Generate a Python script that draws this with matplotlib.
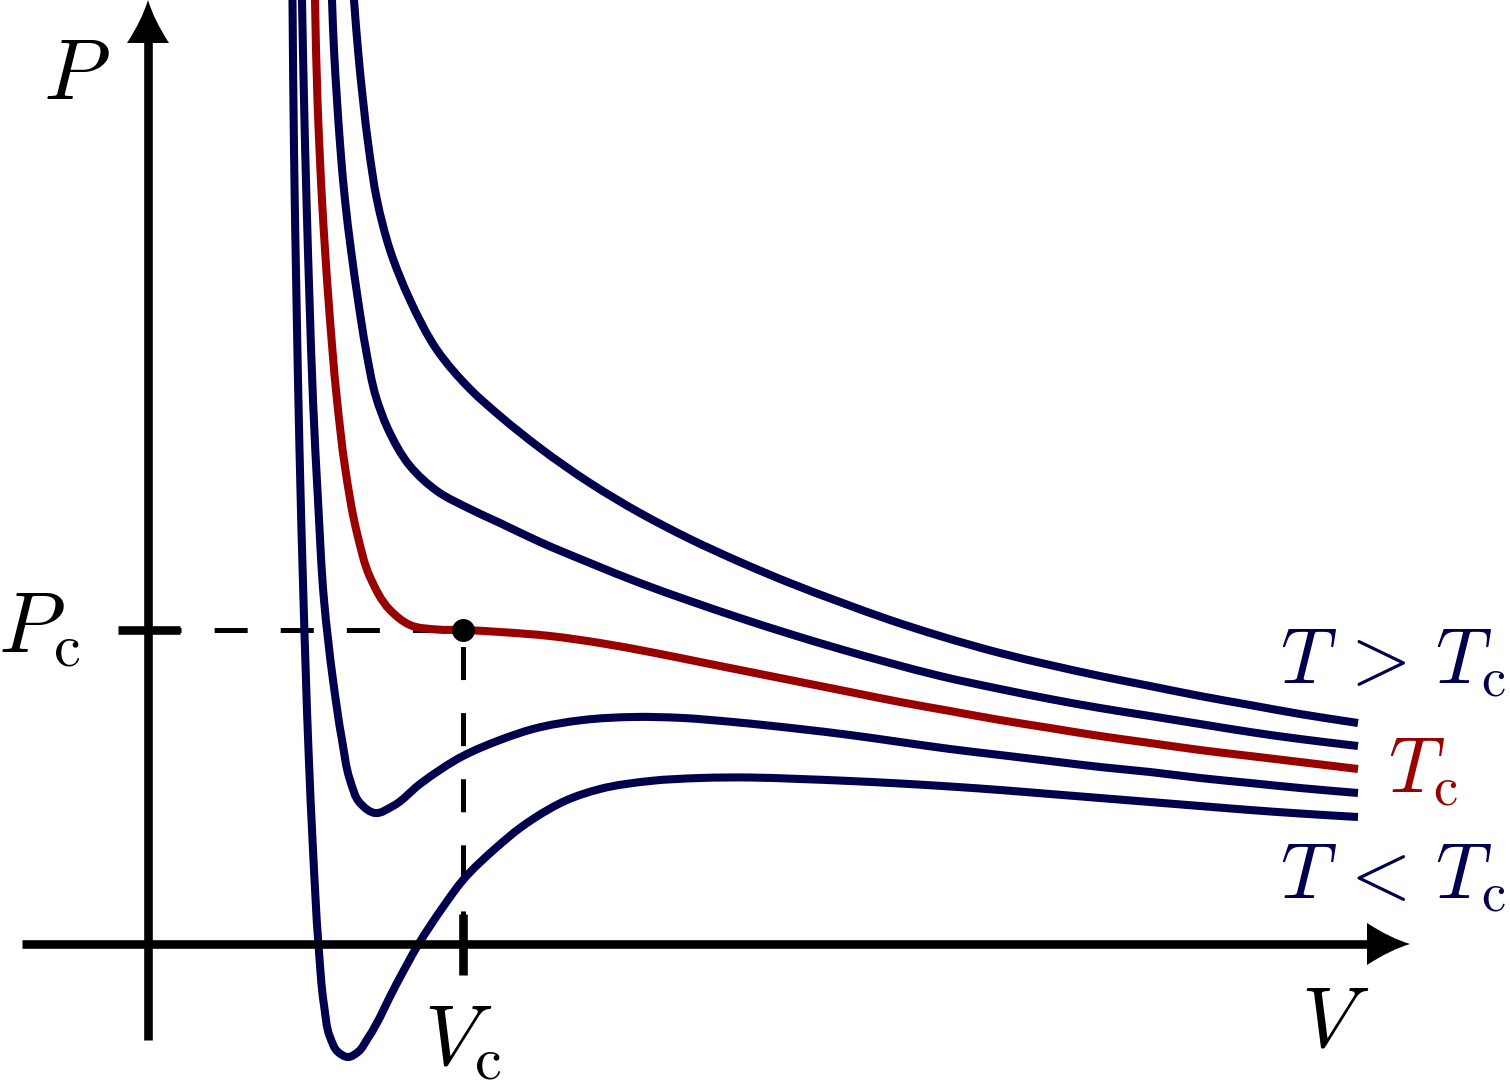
import matplotlib.pyplot as plt
from matplotlib.path import Path
from matplotlib.patches import PathPatch
import numpy as np

plt.rcParams['mathtext.fontset'] = 'cm'
plt.rcParams['lines.scale_dashes'] = False

NAVY = '#00004d'
RED = '#990000'

# critical point (arbitrary units)
v_crit = 315
p_crit = 314

# isotherms, hottest first
v_hot = [202, 206, 210, 215, 221, 229, 242, 262, 289, 322, 352, 392, 442, 492, 542, 592,
         642, 692, 742, 792, 852, 902, 952, 1002, 1052, 1102, 1152, 1210]
p_hot = [1000, 944, 894, 844, 794, 744, 694, 644, 594, 555, 528, 496, 461, 431, 405, 382,
         361, 342, 324, 308, 291, 279, 268, 258, 248, 239, 230, 221]

v_warm = [182, 184, 186, 189, 192.5, 197, 203, 210, 218, 228, 240, 262, 289, 322, 352, 392,
          442, 492, 542, 592, 642, 692, 742, 792, 852, 902, 952, 1002, 1052, 1102, 1152, 1210]
p_warm = [1000, 944, 894, 844, 794, 744, 694, 644, 594, 547, 515, 478, 453, 435, 421, 402,
          381, 361, 343, 326, 310, 295, 281, 268, 255, 245, 236, 228, 220, 212, 205, 198]

v_tc = [166, 167, 169.5, 174, 180.5, 189, 197, 209, 222, 242, 262, 289, 315, 352, 402, 452,
        502, 552, 602, 652, 702, 752, 802, 852, 902, 952, 1002, 1052, 1102, 1152, 1210]
p_tc = [1000, 944, 844, 744, 644, 544, 477, 411, 367, 334, 319, 314.5, 314, 312, 308, 301,
        292, 282, 272, 262, 252, 242, 233, 224, 216, 208, 201, 194, 188, 182, 175]

v_cool = [153, 154, 156, 158.5, 161.5, 165, 170, 176, 185, 194, 202, 212, 227, 245, 272, 315,
          352, 385, 435, 485, 535, 585, 652, 702, 752, 802, 852, 902, 952, 1002, 1052, 1102,
          1152, 1210]
p_cool = [1000, 944, 844, 744, 644, 544, 444, 344, 264, 204, 164, 141, 131, 138, 160, 188,
          204, 215, 224, 227, 226, 222, 215, 209, 202, 195, 189, 183, 177, 172, 166, 161,
          156, 151]

v_cold = [144, 144.5, 146, 148.5, 151.5, 155.5, 160.5, 165, 170.5, 176, 182, 190, 200, 210,
          220, 249, 270, 295, 315, 349, 372, 385, 419, 452, 502, 552, 602, 652, 702, 752,
          802, 852, 902, 952, 1002, 1052, 1102, 1152, 1210]
p_cold = [1000, 944, 794, 644, 494, 344, 194, 94, -1, -61, -93, -108, -113, -108, -94, -39,
          -1, 37, 64, 97, 116, 125, 144, 155, 163, 166, 166.5, 165, 163, 160.5, 157.5, 154,
          150, 146, 142, 138, 134, 130.5, 127]

isotherms = [(v_hot, p_hot, NAVY), (v_warm, p_warm, NAVY), (v_tc, p_tc, RED),
             (v_cool, p_cool, NAVY), (v_cold, p_cold, NAVY)]


def smooth_path(v, p):
    # cubic bezier through the read points, Bessel-style tangents
    pts = np.column_stack([v, p]).astype(float)
    n = len(pts)
    seg = np.diff(pts, axis=0)
    seg_len = np.hypot(seg[:, 0], seg[:, 1])
    unit = seg / seg_len[:, None]
    tang = np.zeros_like(pts)
    tang[0] = unit[0]
    tang[-1] = unit[-1]
    for i in range(1, n - 1):
        t = seg_len[i] * unit[i - 1] + seg_len[i - 1] * unit[i]
        tang[i] = t / np.hypot(*t)
    verts = [pts[0]]
    codes = [Path.MOVETO]
    for i in range(n - 1):
        h = seg_len[i] / 3.0
        verts += [pts[i] + tang[i] * h, pts[i + 1] - tang[i + 1] * h, pts[i + 1]]
        codes += [Path.CURVE4] * 3
    return Path(np.array(verts), codes)


def arrow_head(ax, tip, angle, length=43, half=21):
    # curved-sided arrow tip, flat back
    local = np.array([[0, 0], [-20, 6], [-length, half], [-length, -half],
                      [-20, -6], [0, 0]], dtype=float)
    c, s = np.cos(angle), np.sin(angle)
    rot = local @ np.array([[c, s], [-s, c]])
    verts = rot + np.array(tip)
    codes = [Path.MOVETO, Path.CURVE3, Path.CURVE3, Path.LINETO,
             Path.CURVE3, Path.CURVE3]
    ax.add_patch(PathPatch(Path(verts, codes), facecolor='black',
                           edgecolor='none', zorder=5))


fig = plt.figure(figsize=(15.1, 10.8), dpi=100)
ax = fig.add_axes([0, 0, 1, 1])
ax.set_xlim(-148, 1362)
ax.set_ylim(-136, 944)
ax.axis('off')

# axes with arrows
ax.plot([-126, 1225], [0, 0], color='black', lw=6.2, solid_capstyle='butt', zorder=4)
ax.plot([0, 0], [-96, 905], color='black', lw=6.2, solid_capstyle='butt', zorder=4)
arrow_head(ax, (1262, 0), 0.0)
arrow_head(ax, (0, 944), np.pi / 2)

# ticks
ax.plot([-30, 32], [p_crit, p_crit], color='black', lw=6.2, solid_capstyle='butt', zorder=4)
ax.plot([v_crit, v_crit], [-31, 30], color='black', lw=6.2, solid_capstyle='butt', zorder=4)

# dashed guides
ax.plot([0, v_crit], [p_crit, p_crit], color='black', lw=3.6, dashes=(23.8, 23.8), zorder=2)
ax.plot([v_crit, v_crit], [0, p_crit], color='black', lw=3.6, dashes=(23.8, 23.8), zorder=2)

for v, p, col in isotherms:
    ax.add_patch(PathPatch(smooth_path(v, p), facecolor='none', edgecolor=col,
                           lw=5.8, joinstyle='round', capstyle='butt', zorder=3))

ax.plot([v_crit], [p_crit], 'o', color='black', markersize=15.5, zorder=6)

# labels
ax.text(-72, 845, r'$P$', fontsize=62, ha='center', va='baseline')
ax.text(-68, 292, r'$P_\mathrm{c}$', fontsize=62, ha='right', va='baseline')
ax.text(v_crit, -121, r'$V_\mathrm{c}$', fontsize=62, ha='center', va='baseline')
ax.text(1187, -103, r'$V$', fontsize=62, ha='center', va='baseline')
ax.text(1132, 261, r'$T\,>\,T_\mathrm{c}$', fontsize=56, ha='left', va='baseline', color=NAVY)
ax.text(1240, 152, r'$T_\mathrm{c}$', fontsize=56, ha='left', va='baseline', color=RED)
ax.text(1132, 46, r'$T\,<\,T_\mathrm{c}$', fontsize=56, ha='left', va='baseline', color=NAVY)

fig.savefig('out.png', dpi=100)
